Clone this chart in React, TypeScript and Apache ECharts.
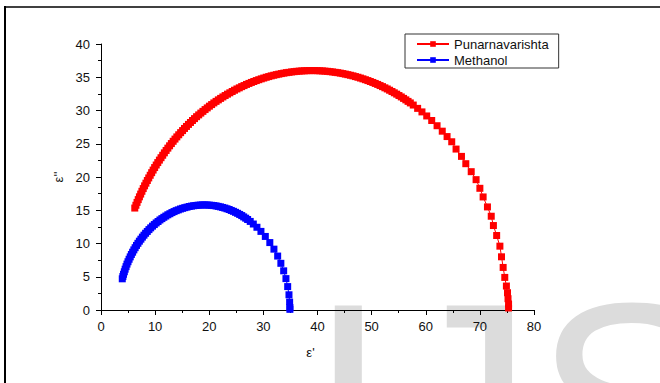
import React, { useEffect, useRef } from "react";
import * as echarts from "echarts";

const seriesNames = ["Punarnavarishta", "Methanol"];
const xTicks = [0, 10, 20, 30, 40, 50, 60, 70, 80];
const yTicks = [0, 5, 10, 15, 20, 25, 30, 35, 40];

const punX = [
  6.24, 6.45, 6.66, 6.88, 7.10, 7.33, 7.56, 7.80, 8.05, 8.30,
  8.56, 8.82, 9.09, 9.36, 9.63, 9.91, 10.20, 10.49, 10.79, 11.09,
  11.40, 11.71, 12.03, 12.35, 12.67, 13.00, 13.33, 13.67, 14.01, 14.36,
  14.71, 15.07, 15.43, 15.79, 16.16, 16.53, 16.90, 17.28, 17.66, 18.05,
  18.44, 18.83, 19.23, 19.63, 20.03, 20.44, 20.85, 21.26, 21.68, 22.10,
  22.52, 22.94, 23.37, 23.80, 24.24, 24.67, 25.11, 25.55, 25.99, 26.43,
  26.88, 27.33, 27.78, 28.23, 28.69, 29.15, 29.61, 30.07, 30.53, 30.99,
  31.45, 31.92, 32.39, 32.85, 33.32, 33.79, 34.26, 34.73, 35.21, 35.68,
  36.15, 36.62, 37.10, 37.57, 38.05, 38.52, 39.0, 39.47, 39.95, 40.42,
  40.90, 41.37, 41.85, 42.32, 42.79, 43.26, 43.74, 44.21, 44.68, 45.14,
  45.61, 46.08, 46.55, 47.01, 47.47, 47.93, 48.39, 48.85, 49.31, 49.76,
  50.22, 50.67, 51.12, 51.56, 52.01, 52.45, 52.89, 53.32, 53.76, 54.19,
  54.63, 55.05, 55.48, 55.90, 56.32, 56.73, 57.15,
  57.69, 58.50, 59.30, 60.18, 61.10, 62.09, 63.05, 63.94,
  64.8, 65.6, 66.6, 67.4, 68.4, 69.3, 70.0, 70.6, 71.4, 72.1, 72.5,
  73.1, 73.7, 74.0, 74.3, 74.6, 74.9, 75.1, 75.2, 75.3, 75.3,
];
const punY = [
  15.33, 15.75, 16.18, 16.60, 17.02, 17.43, 17.85, 18.26, 18.67, 19.07,
  19.47, 19.86, 20.26, 20.65, 21.04, 21.42, 21.80, 22.17, 22.54, 22.90,
  23.27, 23.63, 23.99, 24.34, 24.69, 25.03, 25.37, 25.70, 26.03, 26.35,
  26.67, 26.98, 27.30, 27.60, 27.91, 28.20, 28.50, 28.78, 29.07, 29.34,
  29.61, 29.87, 30.14, 30.39, 30.65, 30.89, 31.14, 31.37, 31.60, 31.82,
  32.04, 32.25, 32.46, 32.66, 32.86, 33.05, 33.24, 33.41, 33.59, 33.75,
  33.92, 34.07, 34.22, 34.36, 34.50, 34.63, 34.76, 34.88, 35.00, 35.10,
  35.21, 35.30, 35.39, 35.47, 35.55, 35.62, 35.69, 35.74, 35.80, 35.84,
  35.89, 35.92, 35.95, 35.97, 35.99, 36.0, 36.0, 36.0, 35.99, 35.97,
  35.95, 35.92, 35.89, 35.84, 35.80, 35.74, 35.69, 35.62, 35.55, 35.47,
  35.39, 35.30, 35.21, 35.10, 35.00, 34.88, 34.76, 34.63, 34.50, 34.36,
  34.22, 34.07, 33.92, 33.75, 33.59, 33.41, 33.24, 33.05, 32.86, 32.66,
  32.46, 32.25, 32.04, 31.82, 31.60, 31.37, 31.14,
  30.82, 30.32, 29.79, 29.18, 28.50, 27.71, 26.89, 26.08,
  25.3, 24.2, 23.1, 22.0, 20.8, 19.6, 18.3, 17.0, 15.5, 14.1, 12.7,
  11.2, 9.6, 8.0, 6.4, 4.9, 3.6, 2.6, 1.7, 0.9, 0.3,
];

const methX = [
  3.93, 4.04, 4.16, 4.31, 4.46, 4.63, 4.80, 4.99, 5.19, 5.40,
  5.61, 5.84, 6.07, 6.31, 6.56, 6.82, 7.09, 7.37, 7.65, 7.94,
  8.24, 8.55, 8.86, 9.18, 9.51, 9.85, 10.19, 10.54, 10.89, 11.25,
  11.61, 11.98, 12.35, 12.73, 13.11, 13.50, 13.89, 14.28, 14.68, 15.08,
  15.48, 15.89, 16.30, 16.71, 17.12, 17.53, 17.94, 18.35, 18.77, 19.18,
  19.60, 20.01, 20.43, 20.84, 21.26, 21.66, 22.07, 22.47, 22.88, 23.28,
  23.68, 24.07, 24.47, 24.85, 25.24, 25.62, 26.00, 26.36, 26.73,
  27.09, 27.57, 28.14, 28.81, 29.55, 30.36, 31.19, 31.95, 32.64, 33.23,
  33.75, 34.17, 34.49, 34.73, 34.85, 34.9, 34.9,
];
const methY = [
  4.69, 5.03, 5.37, 5.75, 6.14, 6.52, 6.90, 7.26, 7.63, 7.99,
  8.35, 8.69, 9.04, 9.37, 9.71, 10.03, 10.35, 10.65, 10.96, 11.25,
  11.54, 11.81, 12.09, 12.35, 12.61, 12.85, 13.09, 13.31, 13.54, 13.74,
  13.94, 14.13, 14.32, 14.48, 14.65, 14.80, 14.94, 15.06, 15.19, 15.29,
  15.39, 15.47, 15.56, 15.62, 15.68, 15.72, 15.76, 15.78, 15.80, 15.80,
  15.79, 15.77, 15.74, 15.70, 15.65, 15.58, 15.51, 15.42, 15.33, 15.22,
  15.11, 14.97, 14.84, 14.69, 14.54, 14.37, 14.20, 14.00, 13.81,
  13.61, 13.32, 12.93, 12.44, 11.82, 11.06, 10.14, 9.15, 8.11, 7.02,
  5.89, 4.72, 3.52, 2.29, 1.19, 0.36, 0.1,
];

const FONT = "'Liberation Sans', Arial, sans-serif";

export default function App() {
  const ref = useRef<HTMLDivElement>(null);
  useEffect(() => {
    if (!ref.current) return;
    const chart = echarts.init(ref.current, null, { renderer: "svg" });
    const pun = punX.map((x, i) => [x, punY[i]]);
    const meth = methX.map((x, i) => [x, methY[i]]);
    const axisCommon = {
      axisLine: { show: true, onZero: false, lineStyle: { color: "#000", width: 1 } },
      axisTick: { show: true, inside: false, length: 5, lineStyle: { color: "#000" } },
      minorTick: { show: true, splitNumber: 2, length: 3, lineStyle: { color: "#000" } },
      splitLine: { show: false },
      minorSplitLine: { show: false },
    };
    chart.setOption({
      animation: false,
      backgroundColor: "#fff",
      textStyle: { fontFamily: FONT },
      grid: { left: 101, right: 126, top: 44, bottom: 73, containLabel: false },
      xAxis: {
        type: "value",
        min: xTicks[0],
        max: xTicks[xTicks.length - 1],
        interval: 10,
        ...axisCommon,
        axisLabel: { color: "#111", fontSize: 13, margin: 10, fontFamily: FONT },
        name: "ε'",
        nameLocation: "middle",
        nameGap: 36,
        nameTextStyle: { color: "#111", fontSize: 13, fontFamily: FONT, padding: [0, 14, 0, 0] },
      },
      yAxis: {
        type: "value",
        min: yTicks[0],
        max: yTicks[yTicks.length - 1],
        interval: 5,
        ...axisCommon,
        axisLabel: { color: "#111", fontSize: 13, margin: 11, fontFamily: FONT },
        name: "ε''",
        nameLocation: "middle",
        nameGap: 34,
        nameRotate: 90,
        nameTextStyle: { color: "#111", fontSize: 13, fontFamily: FONT },
      },
      legend: {
        orient: "vertical",
        left: 405,
        top: 34,
        padding: [3, 10, 1, 11],
        itemGap: 2,
        itemWidth: 32,
        itemHeight: 7,
        borderColor: "#333",
        borderWidth: 1,
        backgroundColor: "#fff",
        textStyle: { color: "#111", fontSize: 13, lineHeight: 14, fontFamily: FONT },
        data: seriesNames,
      },
      graphic: [
        {
          type: "text",
          z: -10,
          silent: true,
          x: 308,
          y: 404,
          style: {
            text: "IJS",
            fill: "#dcdcdc",
            font: "290px 'Liberation Sans', Arial, sans-serif",
            verticalAlign: "middle",
            align: "left",
          },
        },
        {
          type: "line",
          silent: true,
          shape: { x1: 5, y1: 6, x2: 5, y2: 383 },
          style: { stroke: "#000", lineWidth: 2 },
        },
        {
          type: "line",
          silent: true,
          shape: { x1: 4, y1: 7, x2: 660, y2: 7 },
          style: { stroke: "#000", lineWidth: 1.5 },
        },
      ],
      series: [
        {
          name: seriesNames[0],
          type: "line",
          data: pun,
          symbol: "rect",
          symbolSize: 7,
          showAllSymbol: true,
          itemStyle: { color: "#ff0000" },
          lineStyle: { color: "#ff0000", width: 1 },
          z: 3,
        },
        {
          name: seriesNames[1],
          type: "line",
          data: meth,
          symbol: "rect",
          symbolSize: 7,
          showAllSymbol: true,
          itemStyle: { color: "#0000ff" },
          lineStyle: { color: "#0000ff", width: 1 },
          z: 3,
        },
      ],
    });
    return () => chart.dispose();
  }, []);
  return (
    <div
      ref={ref}
      style={{ position: "fixed", left: 0, top: 0, width: 660, height: 383, background: "#fff" }}
    />
  );
}
